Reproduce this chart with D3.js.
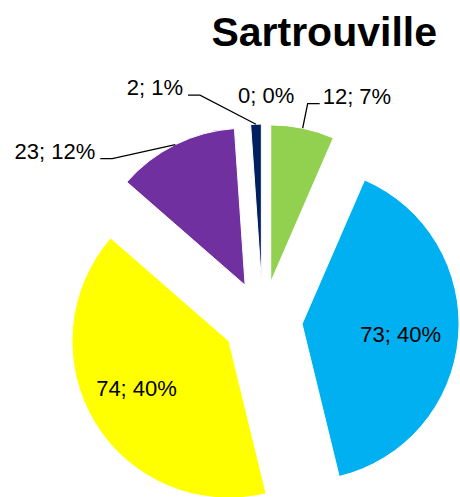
<!DOCTYPE html>
<html>
<head>
<meta charset="utf-8">
<script src="https://cdn.jsdelivr.net/npm/d3@7"></script>
<style>
  html, body { margin: 0; padding: 0; background: #fff; }
  svg { display: block; }
</style>
</head>
<body>
<svg id="chart" width="460" height="497"></svg>
<script>
// ---- data ----
const title = "Sartrouville";
const categories = ["Catégorie 1", "Catégorie 2", "Catégorie 3", "Catégorie 4", "Catégorie 5", "Catégorie 6"];
const values = [12, 73, 74, 23, 2, 0];
const percentLabels = ["7%", "40%", "40%", "12%", "1%", "0%"];
const colors = ["#92D050", "#00B0F0", "#FFFF00", "#7030A0", "#002060", "#C0504D"];

// ---- layout (styling) ----
const W = 460, H = 497;
const cx = 262.7, cy = 320.6;
const radius = 157;
const explode = 39.5;
const fontFamily = "'Liberation Sans', Arial, sans-serif";
// label placement: "in" = inside slice, "out" = outside with leader line
const labelMode = ["out", "in", "in", "out", "out", "out-noline"];
const inNudge = [[0, 0], [-1, 2], [-7, -5], [0, 0], [0, 0], [0, 0]];
const outOffset = [[20, -24.5], [0, 0], [0, 0], [-80, 14], [-73, -29], [3.5, -21]];

const svg = d3.select("#chart");

const pie = d3.pie().sort(null).value(d => d).startAngle(0).endAngle(2 * Math.PI);
const arcs = pie(values);
const arc = d3.arc().innerRadius(0).outerRadius(radius);

const g = svg.append("g").attr("transform", `translate(${cx},${cy})`);

function dir(a) { return [Math.sin(a), -Math.cos(a)]; }

const slices = g.selectAll("g.slice").data(arcs).enter().append("g")
  .attr("class", "slice")
  .attr("transform", d => {
    const m = (d.startAngle + d.endAngle) / 2;
    const [ux, uy] = dir(m);
    return `translate(${ux * explode},${uy * explode})`;
  });

slices.append("path")
  .attr("d", arc)
  .attr("fill", (d, i) => colors[i])
  .attr("stroke", "#fff")
  .attr("stroke-width", 1);

// labels
arcs.forEach((d, i) => {
  const m = (d.startAngle + d.endAngle) / 2;
  const [ux, uy] = dir(m);
  const ax = ux * explode, ay = uy * explode;
  const txt = `${values[i]}; ${percentLabels[i]}`;
  if (labelMode[i] === "in") {
    const R = 100;
    const x = ax + ux * R + inNudge[i][0];
    const y = ay + uy * R + inNudge[i][1];
    g.append("text")
      .attr("x", x).attr("y", y).attr("dy", "0.35em")
      .attr("text-anchor", "middle")
      .attr("font-family", fontFamily).attr("font-size", 22)
      .attr("fill", "#000")
      .text(txt);
  } else {
    const sx = ax + ux * radius, sy = ay + uy * radius;
    const lx = sx + outOffset[i][0], ly = sy + outOffset[i][1];
    const right = outOffset[i][0] > 0;
    let anchor = right ? "start" : "end";
    if (labelMode[i] === "out-noline") anchor = "middle";
    g.append("text")
      .attr("x", lx).attr("y", ly)
      .attr("text-anchor", anchor)
      .attr("font-family", fontFamily).attr("font-size", 22)
      .attr("fill", "#000")
      .text(txt);
    if (labelMode[i] === "out") {
      const endX = right ? lx - 3 : lx + 5;
      const kneeX = right ? endX - 12 : endX + 12;
      const lineY = ly;
      g.append("path")
        .attr("d", `M${sx},${sy}L${kneeX},${lineY}L${endX},${lineY}`)
        .attr("fill", "none")
        .attr("stroke", "#000")
        .attr("stroke-width", 1.3);
    }
  }
});

// title
svg.append("text")
  .attr("x", 437).attr("y", 46)
  .attr("text-anchor", "end")
  .attr("font-family", fontFamily)
  .attr("font-weight", "bold")
  .attr("font-size", 41)
  .attr("fill", "#000")
  .text(title);
</script>
</body>
</html>
